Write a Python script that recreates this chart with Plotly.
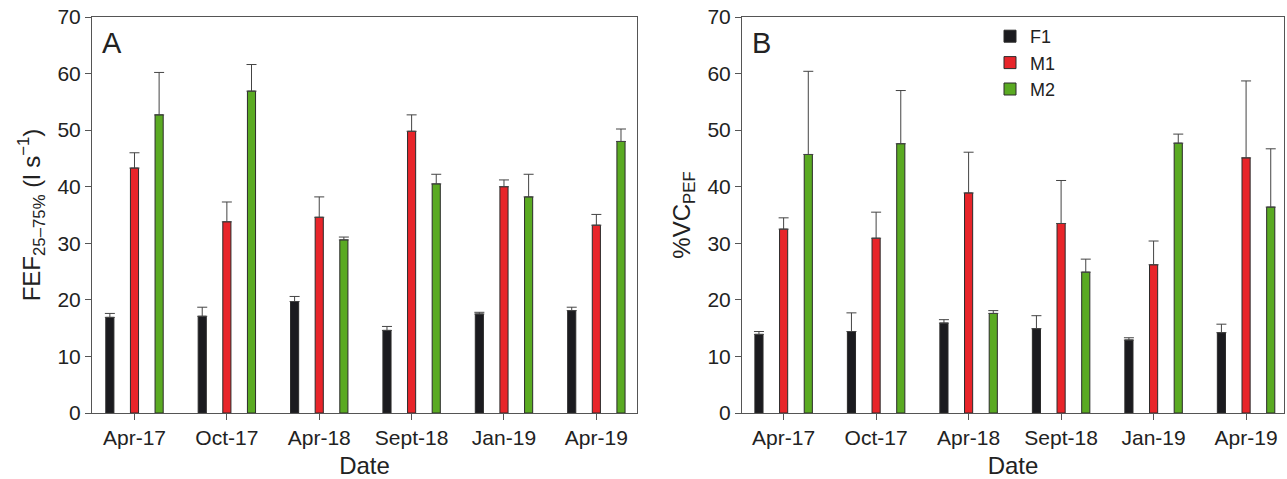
import plotly.graph_objects as go

dates = ["Apr-17", "Oct-17", "Apr-18", "Sept-18", "Jan-19", "Apr-19"]
series = ["F1", "M1", "M2"]

# Panel A: FEF25-75% (l s-1)
fef_F1 = [16.9, 17.1, 19.7, 14.6, 17.5, 18.1]
fef_M1 = [43.3, 33.8, 34.6, 49.8, 40.0, 33.2]
fef_M2 = [52.7, 56.9, 30.6, 40.5, 38.2, 48.0]
fef_F1_err = [0.7, 1.6, 0.9, 0.7, 0.3, 0.6]
fef_M1_err = [2.7, 3.5, 3.6, 2.9, 1.2, 1.9]
fef_M2_err = [7.5, 4.7, 0.5, 1.7, 4.0, 2.2]

# Panel B: %VC_PEF
vc_F1 = [13.9, 14.4, 15.9, 14.9, 12.9, 14.2]
vc_M1 = [32.5, 30.9, 38.9, 33.5, 26.2, 45.1]
vc_M2 = [45.7, 47.6, 17.6, 24.9, 47.7, 36.4]
vc_F1_err = [0.5, 3.3, 0.6, 2.3, 0.4, 1.5]
vc_M1_err = [2.0, 4.6, 7.2, 7.6, 4.2, 13.6]
vc_M2_err = [14.7, 9.4, 0.5, 2.3, 1.6, 10.3]

colors = {"F1": "#1b1b1f", "M1": "#e8252a", "M2": "#5aaa22"}

W, H = 1287, 479
fig = go.Figure()

panels = [
    ("x", "y", [fef_F1, fef_M1, fef_M2], [fef_F1_err, fef_M1_err, fef_M2_err], True),
    ("x2", "y2", [vc_F1, vc_M1, vc_M2], [vc_F1_err, vc_M1_err, vc_M2_err], False),
]
for xa, ya, vals, errs, first in panels:
    for name, v, e in zip(series, vals, errs):
        fig.add_trace(go.Bar(
            x=dates, y=v, name=name, xaxis=xa, yaxis=ya,
            marker=dict(color=colors[name], line=dict(color="#2a2a2a", width=1)),
            error_y=dict(type="data", symmetric=False, array=e,
                         arrayminus=[0] * len(e), color="#444444",
                         thickness=1, width=5),
            showlegend=not first,
            offsetgroup=name,
        ))

font_family = "Liberation Sans, Arial, sans-serif"
axis_common = dict(
    showline=True, linecolor="#555555", linewidth=1, mirror=True,
    ticks="outside", ticklen=6, tickcolor="#555555", tickwidth=1,
    showgrid=False, zeroline=False, automargin=False,
    tickfont=dict(size=21, color="#222222", family=font_family),
)

ydom = [(H - 413) / H, (H - 17) / H]
fig.update_layout(
    width=W, height=H,
    margin=dict(l=0, r=0, t=0, b=0),
    paper_bgcolor="white", plot_bgcolor="white",
    barmode="group", bargap=0.2, bargroupgap=0.67,
    font=dict(family=font_family, color="#222222"),
    xaxis=dict(domain=[92 / W, 637 / W], anchor="y", type="category",
               range=[-0.46, 5.44],
               title=dict(text="Date", font=dict(size=24), standoff=12),
               **axis_common),
    yaxis=dict(domain=ydom, anchor="x", range=[0, 70], dtick=10,
               title=dict(text="FEF<sub>25–75%</sub> (l s<sup>−1</sup>)",
                          font=dict(size=24), standoff=10),
               **axis_common),
    xaxis2=dict(domain=[742 / W, 1284 / W], anchor="y2", type="category",
                range=[-0.45, 5.41],
                title=dict(text="Date", font=dict(size=24), standoff=12),
                **axis_common),
    yaxis2=dict(domain=ydom, anchor="x2", range=[0, 70], dtick=10,
                title=dict(text="%VC<sub>PEF</sub>", font=dict(size=24), standoff=10),
                **axis_common),
    legend=dict(x=990 / W, y=(H - 18) / H, xanchor="left", yanchor="top",
                font=dict(size=18, color="#222222"), bgcolor="rgba(0,0,0,0)",
                tracegroupgap=0, itemwidth=30),
    annotations=[
        dict(text="A", x=0.015, y=0.98, xref="x domain", yref="y domain",
             xanchor="left", yanchor="top", showarrow=False,
             font=dict(size=29, color="#222222")),
        dict(text="B", x=0.015, y=0.98, xref="x2 domain", yref="y2 domain",
             xanchor="left", yanchor="top", showarrow=False,
             font=dict(size=29, color="#222222")),
    ],
)

fig.write_html("out.html")
